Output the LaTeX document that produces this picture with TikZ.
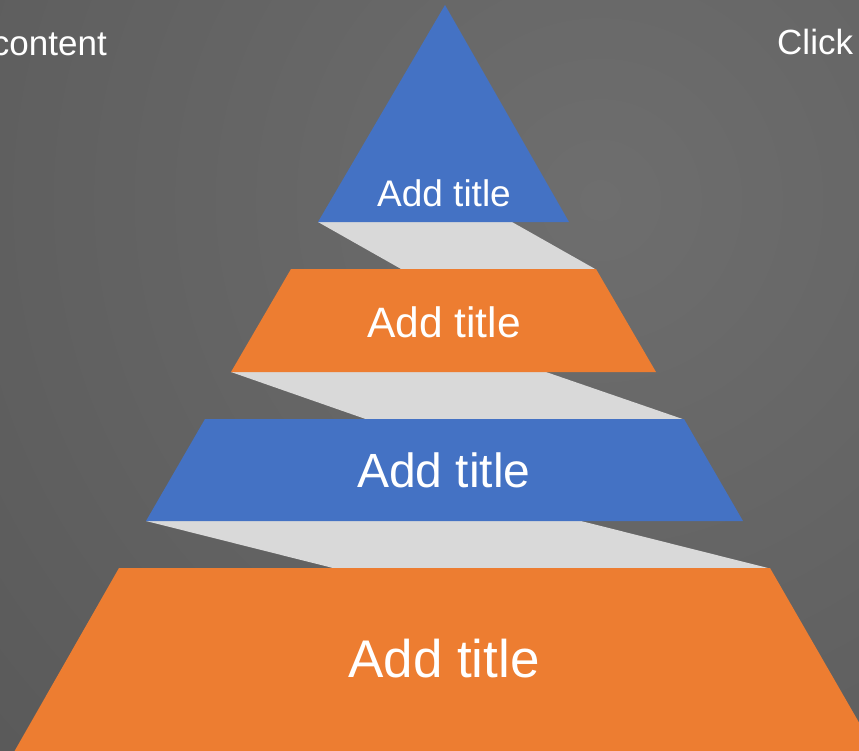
\documentclass[tikz,border=0pt]{standalone}
\usepackage{fontspec}
\setmainfont{Liberation Sans}
\definecolor{bginner}{RGB}{110,110,110}
\definecolor{bgmid}{RGB}{86,86,86}
\definecolor{bgouter}{RGB}{72,72,72}
\definecolor{pblue}{RGB}{68,114,196}
\definecolor{porange}{RGB}{237,125,49}
\definecolor{pgray}{RGB}{217,217,217}
\pgfdeclareradialshading{bgshade}{\pgfpoint{0bp}{0bp}}{color(0bp)=(bginner); color(27bp)=(bgmid); color(50bp)=(bgouter)}
\tikzset{
  band/.style={fill=pgray, draw=none},
  tierblue/.style={fill=pblue, draw=none},
  tierorange/.style={fill=porange, draw=none},
  tiertext/.style={text=white, inner sep=0pt, anchor=base},
  sidetext/.style={text=white, inner sep=0pt, font=\fontsize{35}{42}\selectfont}
}
\begin{document}
\begin{tikzpicture}[x=1pt,y=-1pt]
\useasboundingbox (0,0) rectangle (859,750);
\begin{scope}
\clip (0,0) rectangle (859,750);
\fill[bgouter] (0,0) rectangle (859,750);
\shade[shading=bgshade] (600,200) circle (900);
% gray connecting bands
\fill[band] (318,222) -- (512,222) -- (596,269.5) -- (402,269.5) -- cycle;
\fill[band] (231,372) -- (546,372) -- (684,419.5) -- (367,419.5) -- cycle;
\fill[band] (146,521) -- (581,521) -- (770,568.5) -- (335,568.5) -- cycle;
% tiers
\fill[tierblue] (445,5) -- (569,222) -- (318,222) -- cycle;
\fill[tierorange] (291,269) -- (596,269) -- (656,372) -- (231,372) -- cycle;
\fill[tierblue] (205,419) -- (684,419) -- (743,521) -- (146,521) -- cycle;
\fill[tierorange] (119,568) -- (770,568) -- (876,752) -- (14,752) -- cycle;
% side texts
\node[sidetext, anchor=base east] (lefttext) at (107,55) {content};
\node[sidetext, anchor=base west] (righttext) at (777,54) {Click};
\end{scope}
\node[tiertext, font=\fontsize{37}{44}\selectfont] (t1) at (444,206) {Add title};
\node[tiertext, font=\fontsize{42.5}{50}\selectfont] (t2) at (444,337) {Add title};
\node[tiertext, font=\fontsize{48}{56}\selectfont] (t3) at (444,487) {Add title};
\node[tiertext, font=\fontsize{53}{62}\selectfont] (t4) at (444,677) {Add title};
\end{tikzpicture}
\end{document}
